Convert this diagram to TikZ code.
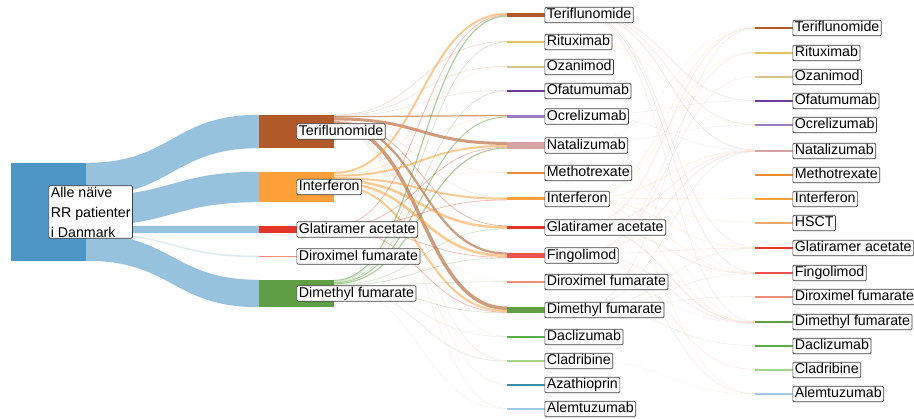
\documentclass[tikz,border=0pt]{standalone}
\usepackage{fontspec}
\setmainfont{Liberation Sans}
\usetikzlibrary{positioning}

\definecolor{srcblue}{HTML}{4B96C4}
\definecolor{bandblue}{HTML}{97C2DE}
\definecolor{teri}{HTML}{B15928}
\definecolor{ritux}{HTML}{E2C25C}
\definecolor{ozan}{HTML}{D5C48F}
\definecolor{ofat}{HTML}{6A3D9A}
\definecolor{ocrel}{HTML}{9E7CC1}
\definecolor{natal}{HTML}{D6A3A3}
\definecolor{metho}{HTML}{EF8A34}
\definecolor{inter}{HTML}{FE9F3A}
\definecolor{hsct}{HTML}{F2A66A}
\definecolor{glat}{HTML}{E5352B}
\definecolor{fingo}{HTML}{EF5350}
\definecolor{dirox}{HTML}{F08C7C}
\definecolor{dimeth}{HTML}{5F9E44}
\definecolor{dacl}{HTML}{5AAC46}
\definecolor{cladr}{HTML}{A3D48A}
\definecolor{azath}{HTML}{3E8CA5}
\definecolor{alem}{HTML}{9FCBE6}

% one band between two bars, stacked from the top of each bar
\newcommand\linkflow[5]{%
  \pgfmathsetmacro\ofsA{\csname fo#1\endcsname+#3/2}%
  \pgfmathsetmacro\ofsB{\csname fi#2\endcsname+#3/2}%
  \draw[flow, line width=#3pt, draw=#4, draw opacity=#5]
    ([yshift=-\ofsA pt]#1.north east) .. controls +(86.5,0) and +(-86.5,0) .. ([yshift=-\ofsB pt]#2.north west);
  \pgfmathsetmacro\ofsA{\csname fo#1\endcsname+#3}%
  \expandafter\xdef\csname fo#1\endcsname{\ofsA}%
  \pgfmathsetmacro\ofsB{\csname fi#2\endcsname+#3}%
  \expandafter\xdef\csname fi#2\endcsname{\ofsB}%
}

\begin{document}
\begin{tikzpicture}[x=1pt,y=-1pt,
  bar/.style={rectangle, inner sep=0pt, minimum width=75pt},
  flow/.style={line cap=butt},
  band/.style={fill=bandblue},
  lab/.style={draw=black!75, fill=white, line width=0.7pt, rounded corners=1.2pt,
    inner xsep=2pt, inner ysep=1pt, font=\fontsize{14.2}{20}\selectfont},
  tag/.style={lab, text height=10.5pt, text depth=3pt}]
	\useasboundingbox (0,0) rectangle (914,419);
	% bars
	\node[bar, fill=srcblue, minimum height=98] (alle) at (48.5,212) {};
	\node[bar, fill=teri, minimum height=33] (aTeri) at (296.5,131.5) {};
	\node[bar, fill=inter, minimum height=30] (aInter) at (296.5,187) {};
	\node[bar, fill=glat, minimum height=7] (aGlat) at (296.5,229.5) {};
	\node[bar, fill=dirox, minimum height=1.2] (aDirox) at (296.5,256.5) {};
	\node[bar, fill=dimeth, minimum height=27] (aDimeth) at (296.5,293.5) {};
	\foreach \n/\c/\y/\h in {bTeri/teri/15/3.8, bRitux/ritux/42/1.2, bOzan/ozan/67/1.2,
	  bOfat/ofat/91/1.2, bOcrel/ocrel/116.5/2.8, bNatal/natal/145.5/6.8, bMetho/metho/173/1.2,
	  bInter/inter/199/3, bGlat/glat/227.5/3.9, bFingo/fingo/255.5/5.9, bDirox/dirox/282/1.2,
	  bDimeth/dimeth/310/6.6, bDacl/dacl/337/1.2, bCladr/cladr/361/1.2, bAzath/azath/385/1.2,
	  bAlem/alem/409/1.2}
	  \node[bar, fill=\c, minimum height=\h] (\n) at (544.5,\y) {};
	\foreach \n/\c/\y/\h in {cTeri/teri/28/1.2, cRitux/ritux/53/1.2, cOzan/ozan/77/1.2,
	  cOfat/ofat/101/1.2, cOcrel/ocrel/125/1.2, cNatal/natal/151/2.5, cMetho/metho/175/1.2,
	  cInter/inter/199/1.2, cHSCT/hsct/223/1.2, cGlat/glat/248/1.2, cFingo/fingo/273/1.2,
	  cDirox/dirox/297/1.2, cDimeth/dimeth/322/1.2, cDacl/dacl/346/1.2, cCladr/cladr/370/1.2,
	  cAlem/alem/394/1.2}
	  \node[bar, fill=\c, minimum height=\h] (\n) at (792.5,\y) {};
	% first switch
	\foreach \t/\a/\w/\o in {aTeri/0/33/1, aInter/33/30/1, aGlat/63/7/1, aDirox/70/1.2/.35, aDimeth/71.2/26.8/1}
	  \fill[band, fill opacity=\o] ([yshift=-\a pt]alle.north east) .. controls +(86.5,0) and +(-86.5,0) .. (\t.north west)
	    -- (\t.south west) .. controls +(-86.5,0) and +(86.5,0) .. ([yshift=-\a pt-\w pt]alle.north east) -- cycle;
	% stacking counters
	\foreach \n in {aTeri,aInter,aGlat,aDirox,aDimeth,bTeri,bRitux,bOzan,bOfat,bOcrel,bNatal,bMetho,
	  bInter,bGlat,bFingo,bDirox,bDimeth,bDacl,bCladr,bAzath,bAlem,cTeri,cRitux,cOzan,cOfat,cOcrel,
	  cNatal,cMetho,cInter,cHSCT,cGlat,cFingo,cDirox,cDimeth,cDacl,cCladr,cAlem}
	  {\expandafter\xdef\csname fo\n\endcsname{0}\expandafter\xdef\csname fi\n\endcsname{0}}
	% second switch
	\foreach \s/\t/\w/\c/\o in {aTeri/bRitux/.5/teri/.25, aTeri/bOzan/.5/teri/.2, aTeri/bOfat/.4/teri/.2,
	  aTeri/bOcrel/1.2/teri/.6, aTeri/bNatal/3/teri/.6, aTeri/bMetho/.3/teri/.15, aTeri/bInter/.4/teri/.2,
	  aTeri/bGlat/.8/teri/.4, aTeri/bFingo/2.2/teri/.6, aTeri/bDimeth/3.5/teri/.6, aTeri/bDacl/.3/teri/.15,
	  aTeri/bCladr/.4/teri/.15, aTeri/bAzath/.3/teri/.15, aTeri/bAlem/.3/teri/.15,
	  aInter/bTeri/2/inter/.55, aInter/bOzan/.4/inter/.2, aInter/bOcrel/.5/inter/.25, aInter/bNatal/2/inter/.55,
	  aInter/bMetho/.4/inter/.2, aInter/bInter/2/inter/.55, aInter/bGlat/2.5/inter/.55, aInter/bFingo/2.5/inter/.55,
	  aInter/bDirox/.3/inter/.2, aInter/bDimeth/2/inter/.55, aInter/bCladr/.3/inter/.15,
	  aGlat/bTeri/.6/glat/.4, aGlat/bNatal/.6/glat/.4, aGlat/bInter/.6/glat/.4, aGlat/bFingo/.6/glat/.4,
	  aGlat/bDimeth/.6/glat/.4,
	  aDimeth/bTeri/1.2/dimeth/.5, aDimeth/bRitux/.6/dimeth/.3, aDimeth/bOfat/.6/dimeth/.3,
	  aDimeth/bOcrel/1/dimeth/.5, aDimeth/bNatal/1.2/dimeth/.5, aDimeth/bGlat/.6/dimeth/.3,
	  aDimeth/bFingo/.6/dimeth/.3, aDimeth/bDirox/.5/dimeth/.25, aDimeth/bDimeth/.5/dimeth/.3,
	  aDimeth/bDacl/.3/dimeth/.2, aDimeth/bCladr/.4/dimeth/.25, aDimeth/bAlem/.3/dimeth/.15}
	  \linkflow{\s}{\t}{\w}{\c}{\o};
	% third switch
	\foreach \s/\t/\w/\c in {bTeri/cOfat/.4/teri, bTeri/cOcrel/.4/teri, bTeri/cNatal/.5/teri,
	  bTeri/cGlat/.3/teri, bTeri/cFingo/.4/teri, bTeri/cDimeth/.3/teri,
	  bRitux/cOcrel/.3/ritux, bOcrel/cOfat/.3/ocrel, bOcrel/cNatal/.3/ocrel,
	  bNatal/cTeri/.3/natal, bNatal/cOcrel/.4/natal, bNatal/cFingo/.4/natal, bNatal/cDimeth/.4/natal,
	  bInter/cTeri/.5/inter, bInter/cRitux/.3/inter, bInter/cNatal/.5/inter, bInter/cInter/.4/inter,
	  bInter/cHSCT/.3/inter, bInter/cGlat/.5/inter, bInter/cFingo/.4/inter, bInter/cDimeth/.5/inter,
	  bInter/cAlem/.3/inter,
	  bGlat/cTeri/.3/glat, bGlat/cNatal/.3/glat, bGlat/cFingo/.4/glat, bGlat/cDimeth/.5/glat,
	  bFingo/cRitux/.3/fingo, bFingo/cOzan/.3/fingo, bFingo/cNatal/.5/fingo, bFingo/cGlat/.3/fingo,
	  bFingo/cDimeth/.4/fingo, bFingo/cCladr/.3/fingo, bFingo/cAlem/.3/fingo,
	  bDirox/cDimeth/.3/dirox,
	  bDimeth/cTeri/.3/dimeth, bDimeth/cNatal/.4/dimeth, bDimeth/cGlat/.3/dimeth, bDimeth/cFingo/.3/dimeth,
	  bDimeth/cDirox/.3/dimeth, bDimeth/cDacl/.3/dimeth,
	  bCladr/cAlem/.3/cladr}
	  \linkflow{\s}{\t}{\w}{\c}{.2};
	% labels
	\node[lab, align=left, right=0pt of alle.center] (lalle) {Alle näive\\RR patienter\\i Danmark};
	\foreach \n/\t in {aTeri/Teriflunomide, aInter/Interferon, aGlat/Glatiramer acetate,
	  aDirox/Diroximel fumarate, aDimeth/Dimethyl fumarate,
	  bTeri/Teriflunomide, bRitux/Rituximab, bOzan/Ozanimod, bOfat/Ofatumumab, bOcrel/Ocrelizumab,
	  bNatal/Natalizumab, bMetho/Methotrexate, bInter/Interferon, bGlat/Glatiramer acetate,
	  bFingo/Fingolimod, bDirox/Diroximel fumarate, bDimeth/Dimethyl fumarate, bDacl/Daclizumab,
	  bCladr/Cladribine, bAzath/Azathioprin, bAlem/Alemtuzumab,
	  cTeri/Teriflunomide, cRitux/Rituximab, cOzan/Ozanimod, cOfat/Ofatumumab, cOcrel/Ocrelizumab,
	  cNatal/Natalizumab, cMetho/Methotrexate, cInter/Interferon, cHSCT/HSCT, cGlat/Glatiramer acetate,
	  cFingo/Fingolimod, cDirox/Diroximel fumarate, cDimeth/Dimethyl fumarate, cDacl/Daclizumab,
	  cCladr/Cladribine, cAlem/Alemtuzumab}
	  \node[tag, right=0pt of \n.center] (l\n) {\t};
\end{tikzpicture}
\end{document}
